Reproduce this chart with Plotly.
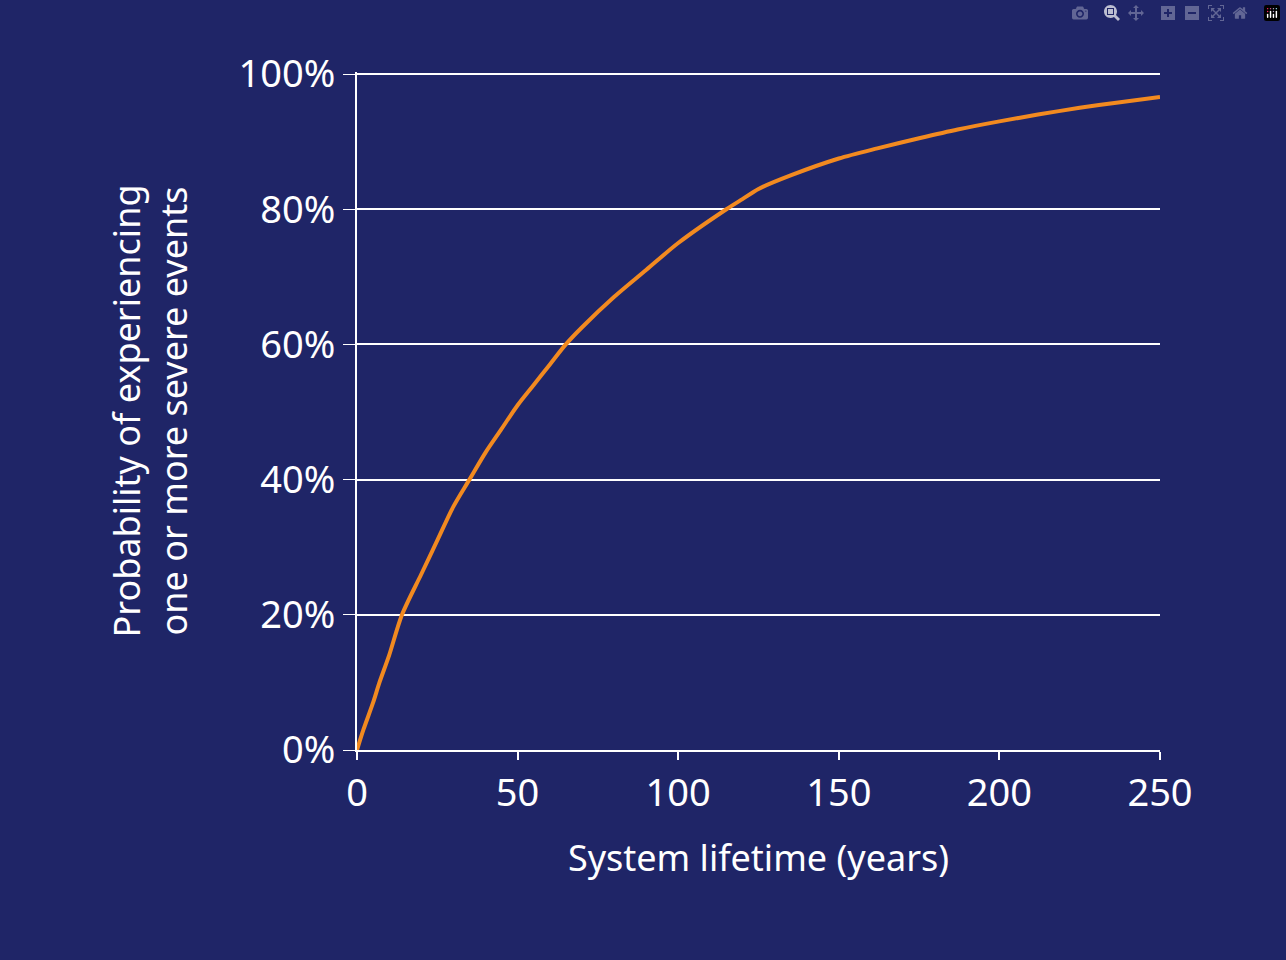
import plotly.graph_objects as go

years = [0, 2, 5, 7, 10, 14, 20, 25, 30, 35, 40, 45, 50, 55, 60, 65, 70, 80, 90, 100, 115, 120, 125, 135, 150, 162, 175, 187, 200, 212, 225, 237, 250]
prob = [0.0, 0.03, 0.07, 0.10, 0.14, 0.20, 0.26, 0.31, 0.36, 0.40, 0.44, 0.475, 0.51, 0.54, 0.57, 0.60, 0.625, 0.67, 0.71, 0.75, 0.80, 0.815, 0.83, 0.85, 0.875, 0.89, 0.905, 0.918, 0.93, 0.94, 0.95, 0.958, 0.966]
x_ticks = [0, 50, 100, 150, 200, 250]
y_ticks = [0, 0.2, 0.4, 0.6, 0.8, 1.0]
y_labels = ["0%", "20%", "40%", "60%", "80%", "100%"]

bg = "#1f2567"
fig = go.Figure(go.Scatter(x=years, y=prob, mode="lines",
                           line=dict(color="#f28a20", width=4, shape="spline", smoothing=0.8)))
fig.update_layout(
    width=1286, height=960, paper_bgcolor=bg, plot_bgcolor=bg,
    margin=dict(l=357, r=126, t=72, b=210), showlegend=False,
    font=dict(family="Noto Sans", color="white", size=36),
)
fig.update_xaxes(range=[0, 250], tickvals=x_ticks, showgrid=False, showline=True, linecolor="white", linewidth=2,
                 ticks="outside", tickcolor="white", ticklen=8, tickwidth=2, zeroline=False,
                 title=dict(text="System lifetime (years)", standoff=30, font=dict(size=36)), tickfont=dict(size=38))
fig.update_yaxes(range=[0, 1.003], tickvals=y_ticks, ticktext=y_labels, showgrid=True, gridcolor="white", gridwidth=2,
                 showline=True, linecolor="white", linewidth=2, ticks="outside", ticklen=12, tickcolor="white", zeroline=False,
                 title=dict(text="Probability of experiencing<br>one or more severe events", standoff=40, font=dict(size=36)),
                 tickfont=dict(size=38))
fig.write_html("out.html", post_script="document.body.style.margin='0';document.body.style.background='#1f2567';")
